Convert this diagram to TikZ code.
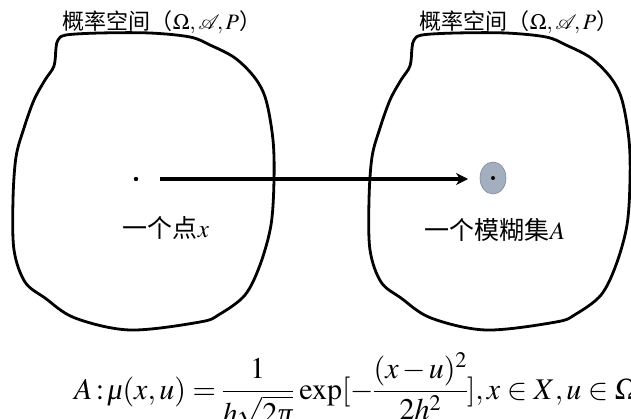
\documentclass[tikz,border=0pt]{standalone}
\usepackage{mathptmx}
\usepackage{mathrsfs}
\usepackage{fontspec}
\setmainfont{Liberation Serif}
\newfontfamily\cjk{Noto Sans CJK SC}
\usetikzlibrary{arrows.meta,shapes.geometric}
\definecolor{blobfill}{HTML}{A3AEBF}
\definecolor{blobedge}{HTML}{7D8898}
\newcommand{\itgr}[1]{\mbox{\itshape #1}}
\tikzset{
  blob/.style={draw=black, line width=2.8pt, line join=round},
  toplabel/.style={font=\fontsize{22}{25}\selectfont, inner sep=0pt},
  midlabel/.style={font=\fontsize{25}{28}\selectfont, inner sep=0pt},
  formula/.style={font=\fontsize{30}{32}\selectfont, inner sep=0pt, anchor=base west},
  mapsto/.style={line width=3.2pt, -{Stealth[length=12pt,width=12pt]}},
}
\begin{document}
\begin{tikzpicture}[x=1pt,y=-1pt]
\useasboundingbox (0,0) rectangle (631,419);
% left probability space
\draw[blob] plot[smooth cycle, tension=0.55] coordinates {
 (58,40) (66,35) (100,33) (150,33) (190,37) (210,45) (235,58) (255,78) (266,100)
 (273,140) (274,180) (271,225) (260,265) (245,295) (220,314) (200,322) (130,330)
 (75,318) (45,298) (25,282) (14,250) (13,200) (16,157) (24,128) (34,100) (45,80)
 (54,66) (56,48)};
% right probability space
\begin{scope}[xshift=356pt]
\draw[blob] plot[smooth cycle, tension=0.55] coordinates {
 (58,40) (66,35) (100,33) (150,33) (190,37) (210,45) (235,58) (255,78) (266,100)
 (273,140) (274,180) (271,225) (260,265) (245,295) (220,314) (200,322) (130,330)
 (75,318) (45,298) (25,282) (14,250) (13,200) (16,157) (24,128) (34,100) (45,80)
 (54,66) (56,48)};
\end{scope}
% labels
\node[toplabel] (lbl1) at (162,22) {{\cjk 概率空间（}$\Omega,\mathscr{A}\!,P${\cjk ）}};
\node[toplabel] (lbl2) at (519,22) {{\cjk 概率空间（}$\Omega,\mathscr{A}\!,P${\cjk ）}};
% point x
\fill (136,179) circle (2.2pt);
\coordinate (src) at (160,179);
\node[draw=blobedge, fill=blobfill, ellipse, minimum width=26pt, minimum height=32pt, inner sep=0pt, line width=0.6pt] (fz) at (493,178) {};
\fill (fz.center) circle (2pt);
\coordinate (dst) at (468,179);
\draw[mapsto] (src) -- (dst);
\node[midlabel] (tx) at (166,228) {{\cjk 一个点}$x$};
\node[midlabel] (tA) at (495,230) {{\cjk 一个模糊集}$A$};
% formula
\node[formula] (eq) at (74,399) {\thickmuskip=4mu \medmuskip=2mu \thinmuskip=2mu \nulldelimiterspace=0pt
 $\displaystyle A\,{:}\,\itgr{μ}(x,u)=\frac{1}{h\sqrt{2\itgr{π}}}\,\exp[-\frac{(x-u)^2}{2h^2}],x\in X,u\in\Omega$};
\end{tikzpicture}
\end{document}
